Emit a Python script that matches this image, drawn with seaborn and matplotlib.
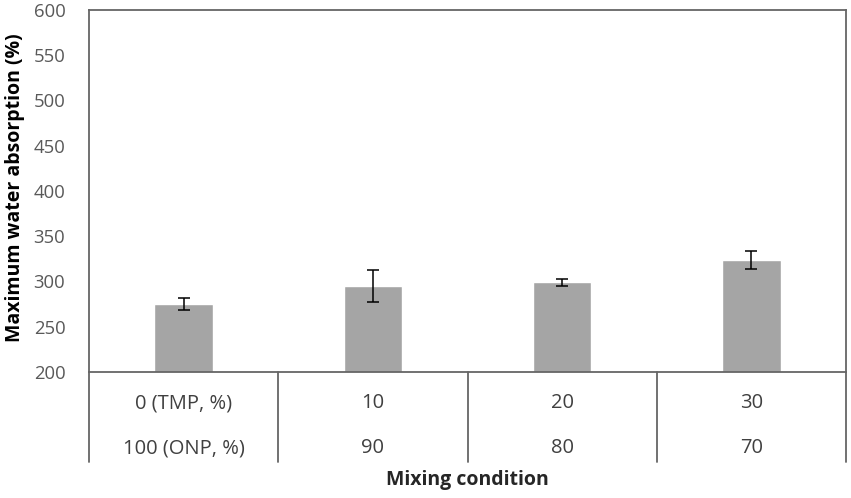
import matplotlib
matplotlib.use("Agg")
import matplotlib.pyplot as plt
import seaborn as sns
import pandas as pd

tmp_labels = ["0 (TMP, %)", "10", "20", "30"]
onp_labels = ["100 (ONP, %)", "90", "80", "70"]
absorption = [275, 295, 299, 324]
errors = [7, 18, 4, 10]
y_ticks = [200, 250, 300, 350, 400, 450, 500, 550, 600]

sns.set_theme(style="white")
plt.rcParams["font.family"] = ["Open Sans", "DejaVu Sans"]

df = pd.DataFrame({"cond": tmp_labels, "val": absorption})

fig = plt.figure(figsize=(8.51, 4.98), dpi=100)
ax = fig.add_axes([89/851, 1 - 372/498, (846 - 89)/851, (372 - 10)/498])

sns.barplot(data=df, x="cond", y="val", color="#a5a5a5", saturation=1,
            width=0.31, errorbar=None, ax=ax)
ax.errorbar(range(len(absorption)), absorption, yerr=errors, fmt="none",
            ecolor="black", elinewidth=1.1, capsize=4, capthick=1.1)

ax.set_ylim(200, 600)
ax.set_xlim(-0.5, 3.5)
ax.set_yticks(y_ticks)
ax.set_yticklabels([str(t) for t in y_ticks], fontsize=13.3, color="#595959")
ax.tick_params(axis="y", length=0, pad=17)
ax.tick_params(axis="x", length=0, labelbottom=False)
ax.set_xlabel("")
ax.set_ylabel("Maximum water absorption (%)", fontsize=14, fontweight="bold",
              color="black")
ax.yaxis.set_label_coords(-0.084, 0.51)

for s in ax.spines.values():
    s.set_color("#666666")
    s.set_linewidth(1.3)

tr = ax.get_xaxis_transform()
for xd in [-0.5, 0.5, 1.5, 2.5, 3.5]:
    ax.plot([xd, xd], [0, -90/362], transform=tr, color="#666666", lw=1.3,
            clip_on=False)

for i, (a, b) in enumerate(zip(tmp_labels, onp_labels)):
    ax.text(i, -31/362, a, transform=tr, ha="center", va="center",
            fontsize=14.5, color="#404040")
    ax.text(i, -76/362, b, transform=tr, ha="center", va="center",
            fontsize=14.5, color="#404040")

ax.text(0.5, -108/362, "Mixing condition", transform=ax.transAxes,
        ha="center", va="center", fontsize=14, fontweight="bold")

fig.savefig("out.png", dpi=100)
